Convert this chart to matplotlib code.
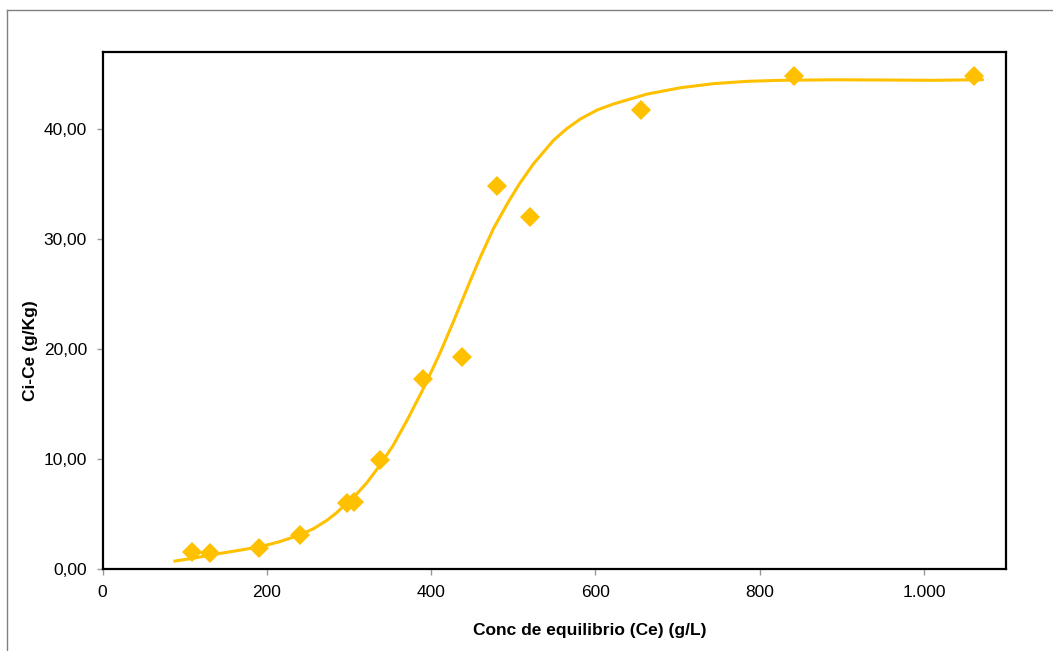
import matplotlib.pyplot as plt
from matplotlib.lines import Line2D
from matplotlib.ticker import FuncFormatter

plt.rcParams['font.family'] = ['Liberation Sans', 'DejaVu Sans']

# measured points
ce = [108.5, 130.8, 190.8, 240.1, 297.3, 306.2, 338.0, 390.0, 437.0,
      480.5, 519.9, 655.6, 841.6, 1060.6]
q = [1.55, 1.51, 1.96, 3.12, 6.05, 6.15, 9.94, 17.27, 19.33,
     34.85, 32.0, 41.75, 44.82, 44.82]

# fitted curve
fit_x = [88, 110, 131, 160, 192, 215, 240, 257, 273, 285, 297, 310, 322, 338,
         354, 371, 391, 411, 427, 448, 460, 476, 494, 508, 525, 549, 565, 582,
         602, 622, 663, 704, 744, 785, 825, 890, 950, 1012, 1071]
fit_y = [0.75, 1.00, 1.30, 1.65, 2.05, 2.50, 3.12, 3.70, 4.45, 5.15, 6.00, 6.90,
         7.90, 9.50, 11.30, 13.60, 16.50, 19.70, 22.50, 26.30, 28.40, 31.00,
         33.40, 35.10, 36.90, 39.00, 40.05, 40.95, 41.75, 42.30, 43.20, 43.78,
         44.15, 44.36, 44.45, 44.50, 44.48, 44.45, 44.51]

x_ticks = [0, 200, 400, 600, 800, 1000]
y_ticks = [0, 10, 20, 30, 40]

gold = '#FFC000'

fig = plt.figure(figsize=(10.53, 6.51), dpi=100)
ax = fig.add_axes([0.0975, 0.1255, 0.8579, 0.7942])

ax.plot(fit_x, fit_y, color=gold, lw=2.2, zorder=2, solid_joinstyle='round')
ax.plot(ce, q, linestyle='none', marker='D', ms=10, color=gold,
        markeredgewidth=0, zorder=3)

ax.set_xlim(0, 1100)
ax.set_ylim(0, 47)
ax.set_xticks(x_ticks)
ax.set_yticks(y_ticks)
ax.xaxis.set_major_formatter(FuncFormatter(lambda v, p: f'{v:,.0f}'.replace(',', '.')))
ax.yaxis.set_major_formatter(FuncFormatter(lambda v, p: f'{v:.2f}'.replace('.', ',')))
ax.tick_params(direction='out', length=4.3, width=1, color='#999999',
               labelsize=12.5, pad=7)

for s in ax.spines.values():
    s.set_linewidth(1.6)
    s.set_color('black')

fig.text(590 / 1053, 1 - 631 / 651, 'Conc de equilibrio (Ce) (g/L)',
         ha='center', va='center', fontsize=12.5, fontweight='bold')
fig.text(31 / 1053, 1 - 351 / 651, 'Ci-Ce (g/Kg)', rotation=90,
         ha='center', va='center', fontsize=12.5, fontweight='bold')

# outer chart frame
fig.add_artist(Line2D([7.3 / 1053, 7.3 / 1053], [0, 1 - 10 / 651],
                      transform=fig.transFigure, color='#808080', lw=1))
fig.add_artist(Line2D([7.3 / 1053, 1], [1 - 10 / 651, 1 - 10 / 651],
                      transform=fig.transFigure, color='#808080', lw=1))

fig.savefig('out.png', dpi=100)
